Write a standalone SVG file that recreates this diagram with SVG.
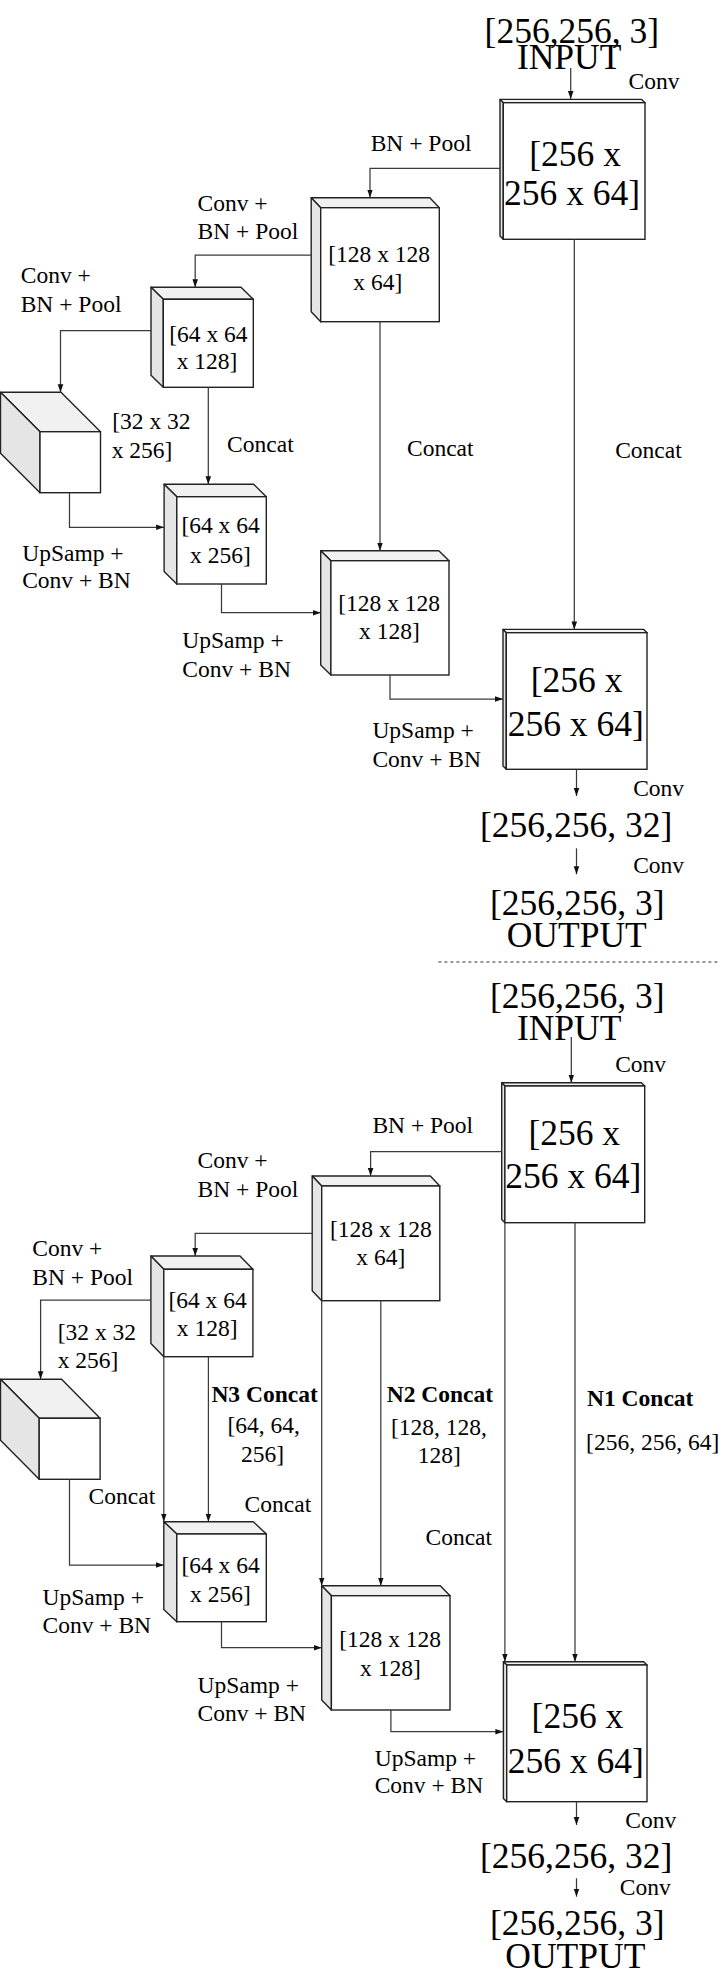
<svg xmlns="http://www.w3.org/2000/svg" width="724" height="1980" viewBox="0 0 724 1980">
<style>
text{font-family:"Liberation Serif","Times New Roman",serif;fill:#000}
.s{font-size:23.5px}
.b{font-size:35.5px}
.bold{font-size:23.5px;font-weight:bold}
.front{fill:#fff;stroke:#222;stroke-width:1.4}
.top{fill:#f1f1f1;stroke:#222;stroke-width:1.4;stroke-linejoin:round}
.side{fill:#e5e5e5;stroke:#222;stroke-width:1.4;stroke-linejoin:round}
.conn polyline,.conn line{fill:none;stroke:#3a3a3a;stroke-width:1.25;marker-end:url(#ah)}
.dash{stroke:#333;stroke-width:1;stroke-dasharray:3,3}
</style>
<defs>
<marker id="ah" markerWidth="8" markerHeight="8" refX="8" refY="4" orient="auto" markerUnits="userSpaceOnUse">
<path d="M0,1.2 L8,4 L0,6.8 z" fill="#111"/>
</marker>
</defs>
<rect x="0" y="0" width="724" height="1980" fill="#fff"/>

<!-- ============ TOP NETWORK ============ -->
<g id="input1">
<text class="b" x="484.6" y="43">[256,256, 3]</text>
<text class="b" x="516.9" y="69.3">INPUT</text>
</g>

<g id="enc1">
<polygon class="top" points="500,99.4 641.7,99.4 645,102.7 503.3,102.7"/>
<polygon class="side" points="500,99.4 503.3,102.7 503.3,239.3 500,236"/>
<rect class="front" x="503.3" y="102.7" width="141.7" height="136.6"/>
<text class="b" x="529.3" y="166">[256 x</text>
<text class="b" x="504" y="205">256 x 64]</text>
</g>

<g id="enc2">
<polygon class="top" points="311.2,197.7 429.8,197.7 439.3,207.7 320.7,207.7"/>
<polygon class="side" points="311.2,197.7 320.7,207.7 320.7,321.7 311.2,311.7"/>
<rect class="front" x="320.7" y="207.7" width="118.6" height="114"/>
<text class="s" x="328.3" y="261.7">[128 x 128</text>
<text class="s" x="353.3" y="290">x 64]</text>
</g>

<g id="enc3">
<polygon class="top" points="151,287.3 241,287.3 253.3,299.3 163.3,299.3"/>
<polygon class="side" points="151,287.3 163.3,299.3 163.3,387.3 151,375.3"/>
<rect class="front" x="163.3" y="299.3" width="90" height="88"/>
<text class="s" x="169.3" y="342.3">[64 x 64</text>
<text class="s" x="176.7" y="369.3">x 128]</text>
</g>

<g id="bottleneck1">
<polygon class="top" points="0.5,392.3 61,392.3 100.5,431.7 40,431.7"/>
<polygon class="side" points="0.5,392.3 40,431.7 40,492.7 0.5,453.3"/>
<rect class="front" x="40" y="431.7" width="60.5" height="61"/>
<text class="s" x="112.3" y="429.3">[32 x 32</text>
<text class="s" x="111.7" y="458.3">x 256]</text>
</g>

<g id="dec3">
<polygon class="top" points="164.1,484.2 253.6,484.2 266.3,496.7 176.8,496.7"/>
<polygon class="side" points="164.1,484.2 176.8,496.7 176.8,584 164.1,571.5"/>
<rect class="front" x="176.8" y="496.7" width="89.5" height="87.3"/>
<text class="s" x="181.4" y="533.3">[64 x 64</text>
<text class="s" x="190.1" y="562.7">x 256]</text>
</g>

<g id="dec2">
<polygon class="top" points="320.7,550.7 438.8,550.7 449,560.7 330.9,560.7"/>
<polygon class="side" points="320.7,550.7 330.9,560.7 330.9,675 320.7,665"/>
<rect class="front" x="330.9" y="560.7" width="118.1" height="114.3"/>
<text class="s" x="338.3" y="611">[128 x 128</text>
<text class="s" x="359" y="639.3">x 128]</text>
</g>

<g id="dec1">
<polygon class="top" points="503,629.4 643.7,629.4 647,632.7 506.3,632.7"/>
<polygon class="side" points="503,629.4 506.3,632.7 506.3,769.3 503,766"/>
<rect class="front" x="506.3" y="632.7" width="140.7" height="136.6"/>
<text class="b" x="530.7" y="691.7">[256 x</text>
<text class="b" x="507.7" y="736">256 x 64]</text>
</g>

<g id="conv32a">
<text class="b" x="480" y="836.7">[256,256, 32]</text>
</g>

<g id="output1">
<text class="b" x="490" y="915">[256,256, 3]</text>
<text class="b" x="506.7" y="946.7">OUTPUT</text>
</g>

<g id="labels1">
<text class="s" x="628.6" y="89">Conv</text>
<text class="s" x="370.7" y="151">BN + Pool</text>
<text class="s" x="197.5" y="210.7">Conv +</text>
<text class="s" x="197.5" y="239.3">BN + Pool</text>
<text class="s" x="20.8" y="282.7">Conv +</text>
<text class="s" x="20.7" y="311.7">BN + Pool</text>
<text class="s" x="227.1" y="451.7">Concat</text>
<text class="s" x="407" y="455.7">Concat</text>
<text class="s" x="615.2" y="457.7">Concat</text>
<text class="s" x="22.2" y="560.7">UpSamp +</text>
<text class="s" x="22.2" y="588.3">Conv + BN</text>
<text class="s" x="182.3" y="648.3">UpSamp +</text>
<text class="s" x="182.3" y="676.7">Conv + BN</text>
<text class="s" x="372.4" y="738.3">UpSamp +</text>
<text class="s" x="372.4" y="766.7">Conv + BN</text>
<text class="s" x="633.2" y="796">Conv</text>
<text class="s" x="633.2" y="872.7">Conv</text>
</g>

<line class="dash" x1="438.4" y1="962" x2="720" y2="962"/>

<!-- ============ BOTTOM NETWORK ============ -->
<g id="input2">
<text class="b" x="490" y="1007.7">[256,256, 3]</text>
<text class="b" x="516.9" y="1040">INPUT</text>
</g>

<g id="enc1b">
<polygon class="top" points="501.7,1082.8 641.4,1082.8 644.7,1086 504.9,1086"/>
<polygon class="side" points="501.7,1082.8 504.9,1086 504.9,1222.7 501.7,1219.5"/>
<rect class="front" x="504.9" y="1086" width="139.8" height="136.7"/>
<text class="b" x="528.4" y="1145">[256 x</text>
<text class="b" x="505.3" y="1188.3">256 x 64]</text>
</g>

<g id="enc2b">
<polygon class="top" points="312.2,1176 430.3,1176 439.8,1186 321.7,1186"/>
<polygon class="side" points="312.2,1176 321.7,1186 321.7,1300.7 312.2,1290.7"/>
<rect class="front" x="321.7" y="1186" width="118.1" height="114.7"/>
<text class="s" x="330" y="1236.7">[128 x 128</text>
<text class="s" x="356.3" y="1265">x 64]</text>
</g>

<g id="enc3b">
<polygon class="top" points="150.9,1256 240,1256 252.9,1269.3 163.8,1269.3"/>
<polygon class="side" points="150.9,1256 163.8,1269.3 163.8,1356.7 150.9,1343.4"/>
<rect class="front" x="163.8" y="1269.3" width="89.1" height="87.4"/>
<text class="s" x="168.4" y="1308.3">[64 x 64</text>
<text class="s" x="176.8" y="1336">x 128]</text>
</g>

<g id="bottleneck2">
<polygon class="top" points="0.5,1379.3 61.6,1379.3 100.1,1418.3 39.2,1418.3"/>
<polygon class="side" points="0.5,1379.3 39.2,1418.3 39.2,1479.3 0.5,1440.3"/>
<rect class="front" x="39.2" y="1418.3" width="60.9" height="61"/>
<text class="s" x="57.7" y="1340">[32 x 32</text>
<text class="s" x="57.7" y="1368.3">x 256]</text>
</g>

<g id="dec3b">
<polygon class="top" points="163.8,1521.7 253.3,1521.7 266.3,1534 176.8,1534"/>
<polygon class="side" points="163.8,1521.7 176.8,1534 176.8,1621.7 163.8,1609.4"/>
<rect class="front" x="176.8" y="1534" width="89.5" height="87.7"/>
<text class="s" x="181.4" y="1572.7">[64 x 64</text>
<text class="s" x="190.1" y="1601.7">x 256]</text>
</g>

<g id="dec2b">
<polygon class="top" points="321.7,1585.7 440.3,1585.7 450,1595.7 331.4,1595.7"/>
<polygon class="side" points="321.7,1585.7 331.4,1595.7 331.4,1710 321.7,1700"/>
<rect class="front" x="331.4" y="1595.7" width="118.6" height="114.3"/>
<text class="s" x="339.2" y="1646.7">[128 x 128</text>
<text class="s" x="360" y="1676">x 128]</text>
</g>

<g id="dec1b">
<polygon class="top" points="503.4,1661.7 643.7,1661.7 647,1665 506.7,1665"/>
<polygon class="side" points="503.4,1661.7 506.7,1665 506.7,1801.7 503.4,1798.4"/>
<rect class="front" x="506.7" y="1665" width="140.3" height="136.7"/>
<text class="b" x="531.6" y="1728.3">[256 x</text>
<text class="b" x="507.7" y="1773.3">256 x 64]</text>
</g>

<g id="conv32b">
<text class="b" x="480" y="1868.3">[256,256, 32]</text>
</g>

<g id="output2">
<text class="b" x="490" y="1935">[256,256, 3]</text>
<text class="b" x="505.3" y="1968.3">OUTPUT</text>
</g>

<g id="labels2">
<text class="s" x="615.2" y="1071.7">Conv</text>
<text class="s" x="372.4" y="1133.3">BN + Pool</text>
<text class="s" x="197.5" y="1168.3">Conv +</text>
<text class="s" x="197.5" y="1197.3">BN + Pool</text>
<text class="s" x="32.3" y="1256">Conv +</text>
<text class="s" x="32.3" y="1285">BN + Pool</text>
<text class="bold" x="211.4" y="1401.7">N3 Concat</text>
<text class="s" x="227.5" y="1433.3">[64, 64,</text>
<text class="s" x="240.9" y="1461.7">256]</text>
<text class="bold" x="386.7" y="1401.7">N2 Concat</text>
<text class="s" x="390.9" y="1435">[128, 128,</text>
<text class="s" x="417.7" y="1462.7">128]</text>
<text class="bold" x="587" y="1406">N1 Concat</text>
<text class="s" x="586.1" y="1450">[256, 256, 64]</text>
<text class="s" x="88.6" y="1504">Concat</text>
<text class="s" x="244.6" y="1511.7">Concat</text>
<text class="s" x="425.5" y="1545">Concat</text>
<text class="s" x="42.5" y="1605">UpSamp +</text>
<text class="s" x="42.5" y="1633.3">Conv + BN</text>
<text class="s" x="197.5" y="1692.7">UpSamp +</text>
<text class="s" x="197.5" y="1720.7">Conv + BN</text>
<text class="s" x="374.7" y="1766">UpSamp +</text>
<text class="s" x="374.7" y="1793.3">Conv + BN</text>
<text class="s" x="625.3" y="1828.3">Conv</text>
<text class="s" x="619.8" y="1895">Conv</text>
</g>

<g id="connectors" class="conn">
<line x1="570.7" y1="68" x2="570.7" y2="99"/>
<polyline points="500,168.3 370,168.3 370,197.5"/>
<polyline points="311.2,255 195.2,255 195.2,287.3"/>
<polyline points="151,330.7 60.5,330.7 60.5,392.3"/>
<line x1="208.3" y1="387.3" x2="208.3" y2="484.2"/>
<line x1="380" y1="321.7" x2="380" y2="550.7"/>
<line x1="574.3" y1="239.3" x2="574.3" y2="629.4"/>
<polyline points="69.5,492.7 69.5,527.3 164.1,527.3"/>
<polyline points="221.5,584 221.5,612.7 320.7,612.7"/>
<polyline points="390,675 390,699 503,699"/>
<line x1="576.5" y1="769.3" x2="576.5" y2="796"/>
<line x1="576.5" y1="848.3" x2="576.5" y2="874.3"/>

<line x1="571.3" y1="1037" x2="571.3" y2="1082.8"/>
<polyline points="501.7,1151.7 370.6,1151.7 370.6,1176"/>
<polyline points="312.2,1233.3 195.2,1233.3 195.2,1256"/>
<polyline points="150.9,1300 40.6,1300 40.6,1379.3"/>
<line x1="163.8" y1="1356.7" x2="163.8" y2="1521.7"/>
<line x1="208.4" y1="1356.7" x2="208.4" y2="1521.7"/>
<line x1="321.7" y1="1300.7" x2="321.7" y2="1585.7"/>
<line x1="380.8" y1="1300.7" x2="380.8" y2="1585.7"/>
<line x1="504.9" y1="1222.7" x2="504.9" y2="1661.7"/>
<line x1="575" y1="1222.7" x2="575" y2="1661.7"/>
<polyline points="69.5,1479.3 69.5,1565 163.8,1565"/>
<polyline points="221.5,1621.7 221.5,1647.7 321.7,1647.7"/>
<polyline points="390.9,1710 390.9,1731.7 503.4,1731.7"/>
<line x1="576.5" y1="1801.7" x2="576.5" y2="1825"/>
<line x1="576.5" y1="1878.3" x2="576.5" y2="1896.7"/>
</g>
</svg>
